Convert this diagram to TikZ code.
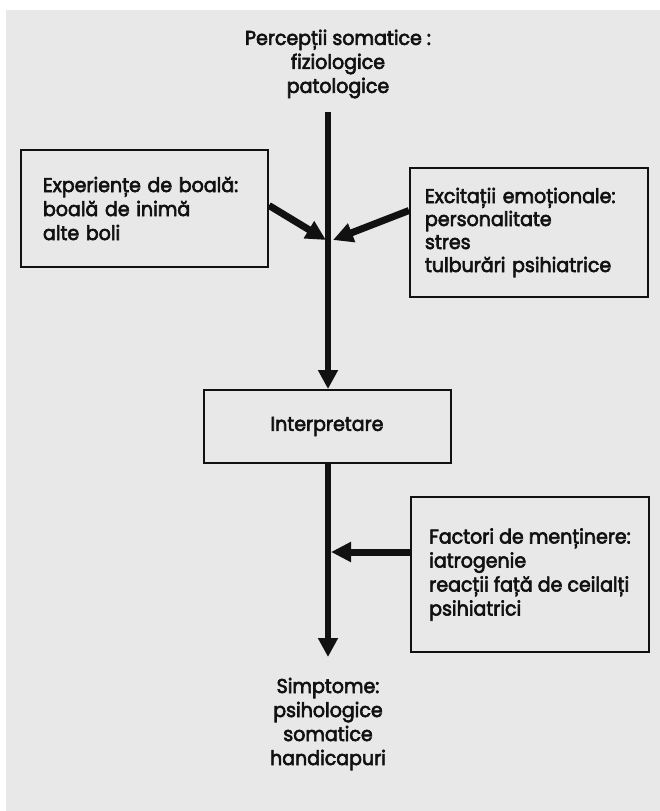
\documentclass[tikz,border=0pt]{standalone}
\usepackage{fontspec}
\setmainfont{Poppins}[FakeBold=3, FakeStretch=0.95]
\usetikzlibrary{arrows.meta}
\definecolor{paper}{HTML}{E8E8E8}
\definecolor{ink}{HTML}{111111}
\tikzset{
  lbl/.style={font=\fontsize{20}{24}\selectfont, text=ink, align=center, inner sep=0pt},
  box/.style={draw=ink, line width=2pt, fill=none, font=\fontsize{20}{24}\selectfont,
    text=ink, align=left, inner sep=0pt},
  thickarrow/.style={draw=ink, line width=7pt, -{Triangle[length=20pt,width=19pt]}},
  downarrow/.style={draw=ink, line width=5.5pt, -{Triangle[length=19pt,width=19pt]}}
}
\begin{document}
\begin{tikzpicture}[x=1pt,y=-1pt]
  \useasboundingbox (0,0) rectangle (660,811);
  % page area of the scan
  \fill[paper] (6,10) rectangle (660,811);

  % title of the flow
  \node[lbl] (percep) at (338,64) {Percepții somatice :\\fiziologice\\patologice};

  % side boxes feeding in
  \node[box, minimum width=247pt, minimum height=117pt, inner xsep=22pt, text width=203pt]
    (exper) at (144.5,208.5) {Experiențe de boală:\\boală de inimă\\alte boli};
  \node[box, minimum width=238pt, minimum height=129pt, inner xsep=15pt, text width=208pt,
    font=\fontsize{20}{23}\selectfont]
    (excit) at (529,232.5) {Excitații emoționale:\\personalitate\\stres\\tulburări psihiatrice};

  % central box
  \node[box, minimum width=247pt, minimum height=73pt, align=center]
    (interp) at (327,426.5) {Interpretare};

  % maintaining factors
  \node[box, minimum width=238pt, minimum height=155pt]
    (factor) at (530,574.5) {Factori de menținere:\\iatrogenie\\reacții față de ceilalți\\psihiatrici};

  % outcome
  \node[lbl] (simpt) at (328,724) {Simptome:\\psihologice\\somatice\\handicapuri};

  % connectors
  \coordinate (top) at (328,112);
  \coordinate (jl) at (326,240);
  \coordinate (jr) at (333,240);
  \coordinate (stip) at (328,657);
  \coordinate (htip) at (331,552);

  \draw[downarrow] (top) -- (top |- interp.north);
  \draw[thickarrow] ([yshift=3pt]exper.east) -- (jl);
  \draw[thickarrow] ([yshift=22pt]excit.west) -- (jr);
  \draw[downarrow] (interp.south -| stip) -- (stip);
  \draw[thickarrow] (htip -| factor.west) -- (htip);
\end{tikzpicture}
\end{document}
